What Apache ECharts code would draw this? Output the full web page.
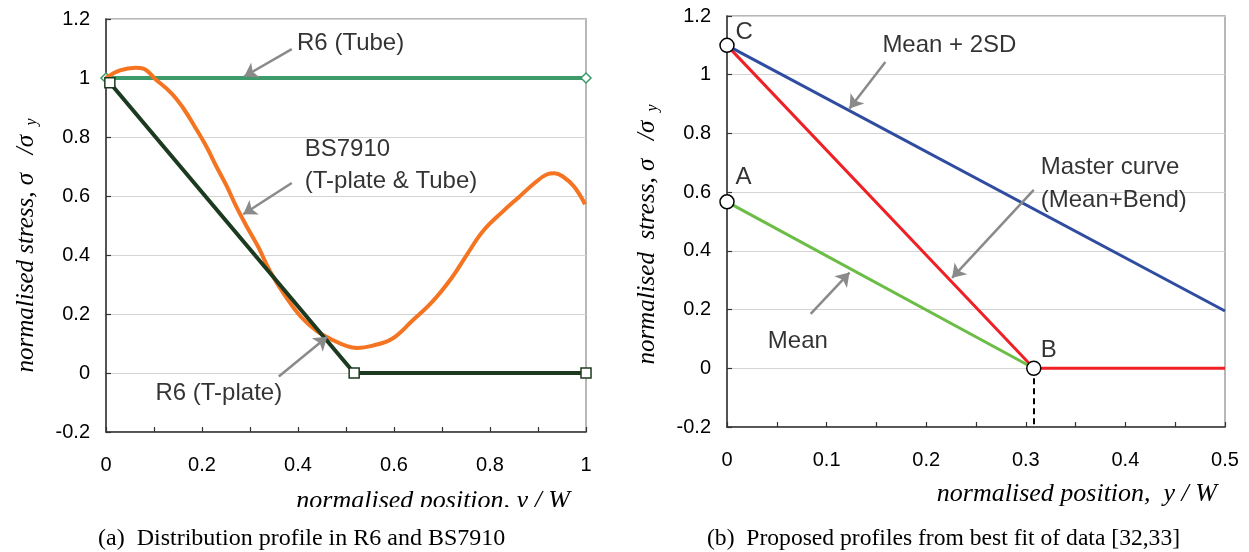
<!DOCTYPE html>
<html>
<head>
<meta charset="utf-8">
<title>Distribution profiles</title>
<script src="https://cdn.jsdelivr.net/npm/echarts@6/dist/echarts.min.js"></script>
<style>
  html, body { margin: 0; padding: 0; background: #fff; }
  #chart { width: 1249px; height: 552px; }
</style>
</head>
<body>
<div id="chart"></div>
<script>
// (a) R6 / BS7910 profiles
const r6Tube = [[0, 1], [1, 1]];
const r6Plate = [[0.008, 0.984], [0.517, 0], [1, 0]];
const bs7910 = [
  [0, 1.0], [0.029, 1.026], [0.062, 1.035], [0.078, 1.032], [0.103, 0.996],
  [0.136, 0.949], [0.16, 0.90], [0.185, 0.835], [0.21, 0.765], [0.23, 0.70],
  [0.251, 0.635], [0.272, 0.562], [0.292, 0.50], [0.317, 0.428], [0.342, 0.344],
  [0.374, 0.26], [0.407, 0.189], [0.44, 0.141], [0.473, 0.111], [0.502, 0.091],
  [0.523, 0.085], [0.556, 0.093], [0.597, 0.117], [0.638, 0.177], [0.679, 0.240],
  [0.72, 0.322], [0.753, 0.404], [0.786, 0.482], [0.827, 0.548], [0.86, 0.596],
  [0.893, 0.644], [0.918, 0.673], [0.934, 0.677], [0.951, 0.667], [0.975, 0.632],
  [0.998, 0.572]
];
const notesA = [
  { name: 'R6 (Tube)', value: [0.398, 1.116] },
  { name: 'BS7910', value: [0.414, 0.757] },
  { name: '(T-plate & Tube)', value: [0.414, 0.650] },
  { name: 'R6 (T-plate)', value: [0.103, -0.068] }
];
const arrowsA = [
  [[0.387, 1.098], [0.288, 1.005]],
  [[0.387, 0.644], [0.286, 0.538]],
  [[0.360, -0.012], [0.461, 0.123]]
];

// (b) proposed profiles
const mean2sd = [[0, 1.1], [0.5, 0.195]];
const masterCurve = [[0, 1.1], [0.308, 0], [0.5, 0]];
const meanLine = [[0, 0.567], [0.308, 0]];
const keyPoints = [
  { name: 'C', value: [0, 1.1] },
  { name: 'A', value: [0, 0.567] },
  { name: 'B', value: [0.308, 0] }
];
const notesB = [
  { name: 'C', value: [0.0085, 1.145] },
  { name: 'A', value: [0.0085, 0.65] },
  { name: 'B', value: [0.315, 0.062] },
  { name: 'Mean + 2SD', value: [0.156, 1.10] },
  { name: 'Master curve', value: [0.315, 0.683] },
  { name: '(Mean+Bend)', value: [0.315, 0.572] },
  { name: 'Mean', value: [0.041, 0.091] }
];
const arrowsB = [
  [[0.159, 1.043], [0.123, 0.885]],
  [[0.308, 0.608], [0.226, 0.308]],
  [[0.084, 0.185], [0.123, 0.326]]
];

const yTicks = { min: -0.2, max: 1.2, interval: 0.2 };

const chart = echarts.init(document.getElementById('chart'));

const sans = 'Liberation Sans, Arial, sans-serif';
const serif = 'Liberation Serif, Times New Roman, serif';

function xAxisOf(gridIndex, max, interval, nameGap, nameDrop) {
  return {
    type: 'value',
    gridIndex: gridIndex,
    min: 0,
    max: max,
    interval: interval,
    name: gridIndex === 0 ? 'normalised position, y / W' : 'normalised position,  y / W',
    nameLocation: 'end',
    nameGap: nameGap,
    nameTextStyle: {
      fontFamily: serif, fontStyle: 'italic', fontSize: 26, color: '#000',
      align: 'right', verticalAlign: 'top', padding: [nameDrop, 0, 0, 0]
    },
    axisLine: { show: true, onZero: false, lineStyle: { color: '#333', width: 1.5 } },
    axisTick: { show: true, inside: true, length: 5, lineStyle: { color: '#333', width: 1.2 } },
    minorTick: { show: true, splitNumber: 2, length: 5, lineStyle: { color: '#333', width: 1.2 } },
    axisLabel: { color: '#000', fontFamily: sans, fontSize: 20, margin: 23 },
    splitLine: { show: false }
  };
}

function yAxisOf(gridIndex, name, shift) {
  return {
    type: 'value',
    gridIndex: gridIndex,
    min: yTicks.min,
    max: yTicks.max,
    interval: yTicks.interval,
    name: name,
    nameLocation: 'middle',
    nameRotate: 90,
    nameGap: 66,
    nameTextStyle: {
      fontFamily: serif, fontStyle: 'italic', fontSize: 25, color: '#000',
      padding: [0, shift, 0, 0],
      rich: {
        sub: { fontFamily: serif, fontStyle: 'italic', fontSize: 16, color: '#000', padding: [12, 0, 0, 3] }
      }
    },
    axisLine: { show: true, onZero: false, lineStyle: { color: '#333', width: 1.5 } },
    axisTick: { show: true, inside: true, length: 5, lineStyle: { color: '#333', width: 1.2 } },
    axisLabel: { color: '#000', fontFamily: sans, fontSize: 20, margin: 16 },
    splitLine: { show: true, lineStyle: { color: '#d4d4d4', width: 1 } }
  };
}

function arrowLines(list) {
  return {
    silent: true,
    animation: false,
    symbol: ['none', 'arrow'],
    symbolSize: 13,
    label: { show: false },
    lineStyle: { color: '#8a8a8a', width: 2.5, type: 'solid' },
    itemStyle: { color: '#8a8a8a' },
    emphasis: { disabled: true },
    data: list.map(a => [{ coord: a[0] }, { coord: a[1] }])
  };
}

function noteSeries(gridIndex, list, arrows) {
  return {
    type: 'scatter',
    xAxisIndex: gridIndex,
    yAxisIndex: gridIndex,
    data: list,
    symbolSize: 0,
    silent: true,
    z: 1,
    label: {
      show: true,
      position: 'right',
      distance: 0,
      formatter: '{b}',
      color: '#000',
      fontFamily: sans,
      fontSize: 24
    },
    markLine: arrowLines(arrows)
  };
}

const option = {
  animation: false,
  backgroundColor: '#fff',
  title: [
    {
      text: '(a)  Distribution profile in R6 and BS7910',
      left: 93, top: 522,
      textStyle: { fontFamily: serif, fontSize: 24, fontWeight: 'normal', color: '#000' }
    },
    {
      text: '(b)  Proposed profiles from best fit of data [32,33]',
      left: 702, top: 522,
      textStyle: { fontFamily: serif, fontSize: 23.6, fontWeight: 'normal', color: '#000' }
    }
  ],
  grid: [
    { left: 106, top: 19, width: 480, height: 413, show: true, borderColor: '#a0a0a0', borderWidth: 1.5, backgroundColor: 'transparent' },
    { left: 727, top: 16, width: 498, height: 411, show: true, borderColor: '#a0a0a0', borderWidth: 1.5, backgroundColor: 'transparent' }
  ],
  xAxis: [
    xAxisOf(0, 1, 0.2, -16, 56),
    xAxisOf(1, 0.5, 0.1, -8, 54)
  ],
  yAxis: [
    yAxisOf(0, '{i|normalised stress, σ   /σ }{sub|y}', 40),
    yAxisOf(1, '{i|normalised  stress, σ   /σ }{sub|y}', 26)
  ],
  series: [
    {
      name: 'R6 (Tube)',
      type: 'line',
      xAxisIndex: 0, yAxisIndex: 0,
      data: r6Tube,
      symbol: 'diamond', symbolSize: 10, showSymbol: true,
      itemStyle: { color: '#fff', borderColor: '#3d9a6a', borderWidth: 1.5 },
      lineStyle: { color: '#3d9a6a', width: 4 },
      z: 2
    },
    {
      name: 'BS7910',
      type: 'line',
      xAxisIndex: 0, yAxisIndex: 0,
      data: bs7910,
      smooth: 0.4,
      showSymbol: false,
      lineStyle: { color: '#f47421', width: 4 },
      z: 3
    },
    {
      name: 'R6 (T-plate)',
      type: 'line',
      xAxisIndex: 0, yAxisIndex: 0,
      data: r6Plate,
      symbol: 'rect', symbolSize: 10, showSymbol: true,
      itemStyle: { color: '#fff', borderColor: '#1c3a1f', borderWidth: 1.5 },
      lineStyle: { color: '#1c3a1f', width: 4 },
      z: 4
    },
    noteSeries(0, notesA, arrowsA),
    {
      name: 'Master curve',
      type: 'line',
      xAxisIndex: 1, yAxisIndex: 1,
      data: masterCurve,
      showSymbol: false,
      lineStyle: { color: '#ee2127', width: 3 },
      z: 2
    },
    {
      name: 'Mean',
      type: 'line',
      xAxisIndex: 1, yAxisIndex: 1,
      data: meanLine,
      showSymbol: false,
      lineStyle: { color: '#6bbd45', width: 3 },
      z: 3
    },
    {
      name: 'Mean + 2SD',
      type: 'line',
      xAxisIndex: 1, yAxisIndex: 1,
      data: mean2sd,
      showSymbol: false,
      lineStyle: { color: '#2f4ca0', width: 3 },
      z: 4
    },
    noteSeries(1, notesB, arrowsB),
    {
      name: 'points',
      type: 'scatter',
      xAxisIndex: 1, yAxisIndex: 1,
      data: keyPoints,
      symbol: 'circle', symbolSize: 14,
      itemStyle: { color: '#fff', borderColor: '#000', borderWidth: 1.5, opacity: 1 },
      silent: true,
      z: 6,
      markLine: {
        silent: true,
        animation: false,
        symbol: 'none',
        label: { show: false },
        lineStyle: { color: '#000', width: 2, type: [6, 4] },
        data: [[{ coord: [0.308, 0] }, { coord: [0.308, -0.2] }]]
      }
    }
  ],
  // the source image cuts off the lower edge of the left x-axis title
  graphic: [
    { type: 'rect', left: 290, top: 507, shape: { width: 300, height: 14 }, style: { fill: '#fff' }, z: 100 }
  ]
};

chart.setOption(option);

window.addEventListener('resize', function() {
  chart.resize();
});
</script>
</body>
</html>
